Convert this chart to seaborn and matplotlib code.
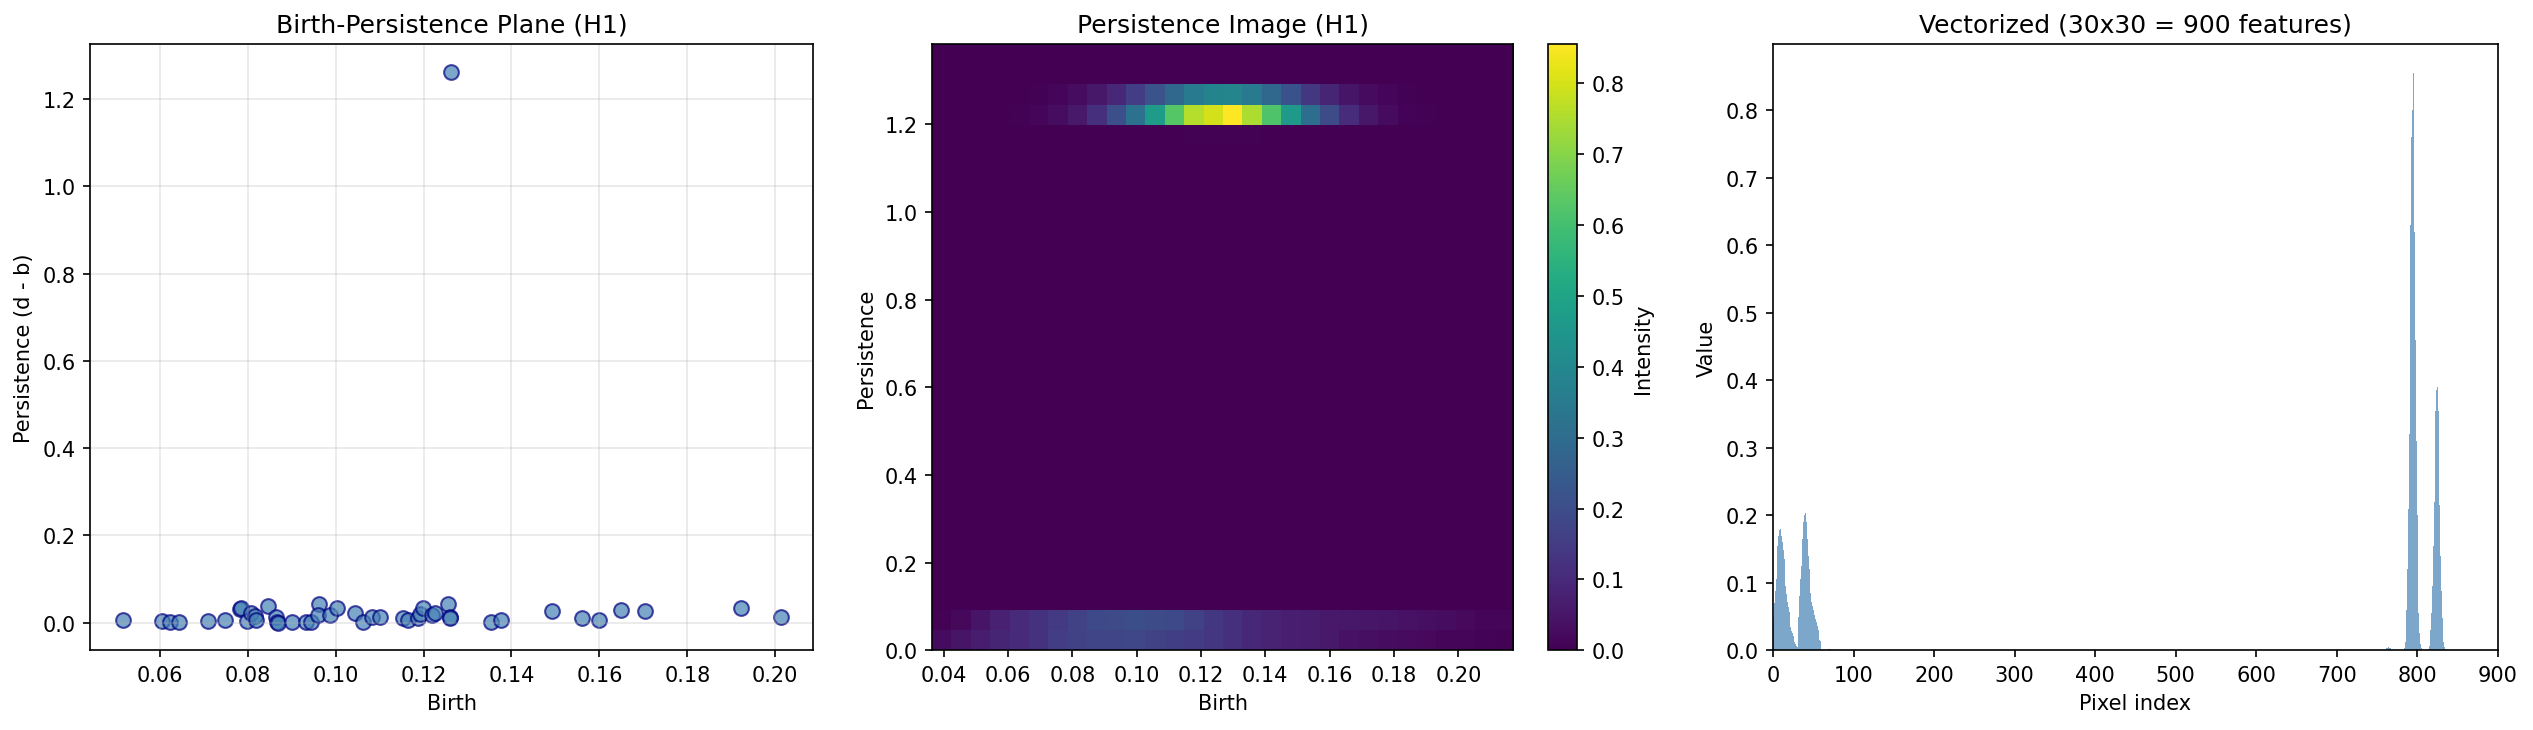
import numpy as np
import pandas as pd
import matplotlib
matplotlib.use('Agg')
import matplotlib.pyplot as plt
import seaborn as sns

plt.rcParams['font.family'] = ['DejaVu Sans']

# --- H1 diagram points (birth, persistence) ---
births = [0.0517, 0.0606, 0.0623, 0.0644, 0.0710, 0.0749, 0.0783, 0.0785,
          0.0799, 0.0808, 0.0816, 0.0818, 0.0847, 0.0865, 0.0866, 0.0869,
          0.0900, 0.0933, 0.0943, 0.0961, 0.0959, 0.0987, 0.1003, 0.1043,
          0.1063, 0.1082, 0.1102, 0.1153, 0.1164, 0.1188, 0.1193, 0.1199,
          0.1220, 0.1227, 0.1256, 0.1259, 0.1261, 0.1262, 0.1354, 0.1377,
          0.1491, 0.1560, 0.1599, 0.1650, 0.1704, 0.1922, 0.2012]
persistence = [0.006, 0.004, 0.001, 0.001, 0.004, 0.007, 0.032, 0.034,
               0.004, 0.023, 0.015, 0.007, 0.038, 0.013, 0.002, 0.000,
               0.002, 0.002, 0.002, 0.042, 0.018, 0.017, 0.034, 0.022,
               0.002, 0.014, 0.013, 0.011, 0.007, 0.010, 0.019, 0.034,
               0.017, 0.023, 0.043, 0.013, 0.011, 1.262, 0.001, 0.006,
               0.026, 0.011, 0.006, 0.030, 0.026, 0.034, 0.013]

# --- persistence image (30x30), only the non-empty rows, row 0 = bottom ---
img_row0 = [0.025, 0.050, 0.070, 0.088, 0.105, 0.125, 0.155, 0.170, 0.178, 0.180,
            0.182, 0.170, 0.160, 0.148, 0.135, 0.120, 0.095, 0.083, 0.072, 0.064,
            0.057, 0.042, 0.035, 0.029, 0.025, 0.021, 0.016, 0.012, 0.009, 0.006]
img_row1 = [0.005, 0.020, 0.050, 0.080, 0.105, 0.125, 0.145, 0.165, 0.190, 0.200,
            0.204, 0.200, 0.190, 0.165, 0.140, 0.120, 0.100, 0.085, 0.072, 0.065,
            0.060, 0.056, 0.052, 0.047, 0.042, 0.036, 0.030, 0.022, 0.016, 0.014]
img_row2 = [0, 0, 0, 0, 0, 0, 0, 0, 0.001, 0.002,
            0.002, 0.002, 0.001, 0, 0, 0, 0, 0, 0, 0,
            0, 0, 0, 0, 0, 0, 0, 0, 0, 0]
img_row25 = [0, 0, 0, 0, 0, 0, 0, 0, 0, 0,
             0, 0.001, 0.003, 0.004, 0.005, 0.005, 0.004, 0.003, 0.001, 0,
             0, 0, 0, 0, 0, 0, 0, 0, 0, 0]
img_row26 = [0, 0, 0, 0, 0.004, 0.012, 0.030, 0.060, 0.120, 0.210,
             0.320, 0.470, 0.630, 0.760, 0.800, 0.855, 0.750, 0.620, 0.460, 0.310,
             0.200, 0.110, 0.055, 0.025, 0.010, 0.004, 0, 0, 0, 0]
img_row27 = [0, 0, 0, 0, 0.002, 0.006, 0.015, 0.030, 0.055, 0.095,
             0.155, 0.220, 0.290, 0.355, 0.385, 0.390, 0.355, 0.290, 0.215, 0.140,
             0.088, 0.048, 0.025, 0.012, 0.005, 0.002, 0, 0, 0, 0]
img_rows = {0: img_row0, 1: img_row1, 2: img_row2,
            25: img_row25, 26: img_row26, 27: img_row27}
img_extent = [0.0364, 0.217, 0.0, 1.382]
birth_ticks = [0.04, 0.06, 0.08, 0.10, 0.12, 0.14, 0.16, 0.18, 0.20]

pimg = np.zeros((30, 30))
for r, vals in img_rows.items():
    pimg[r] = vals
vec = pimg.flatten()

df_pts = pd.DataFrame({'birth': births, 'pers': persistence})
df_vec = pd.DataFrame({'idx': np.arange(vec.size), 'val': vec})

fig = plt.figure(figsize=(16.893, 4.873), dpi=150)
ax1 = fig.add_axes([0.0357, 0.109, 0.2853, 0.829])
ax2 = fig.add_axes([0.3678, 0.109, 0.2293, 0.829])
cax = fig.add_axes([0.6110, 0.109, 0.0114, 0.829])
ax3 = fig.add_axes([0.6997, 0.109, 0.2860, 0.829])

# panel 1: birth-persistence scatter
sns.scatterplot(data=df_pts, x='birth', y='pers', s=50, color='steelblue',
                edgecolor='navy', linewidth=1, alpha=0.7, ax=ax1)
ax1.set_title('Birth-Persistence Plane (H1)', fontsize=12)
ax1.set_xlabel('Birth')
ax1.set_ylabel('Persistence (d - b)')
ax1.grid(True, alpha=0.3)

# panel 2: persistence image
im = ax2.imshow(pimg, origin='lower', extent=img_extent, aspect='auto',
                cmap='viridis', vmin=0, vmax=vec.max())
ax2.set_xticks(birth_ticks)
ax2.set_xlim(img_extent[0], img_extent[1])
ax2.set_title('Persistence Image (H1)', fontsize=12)
ax2.set_xlabel('Birth')
ax2.set_ylabel('Persistence')
cb = fig.colorbar(im, cax=cax)
cb.set_label('Intensity')

# panel 3: flattened vector
sns.barplot(data=df_vec, x='idx', y='val', native_scale=True, width=1.0,
            color='steelblue', saturation=1, alpha=0.7, linewidth=0,
            errorbar=None, ax=ax3)
ax3.set_xlim(0, 900)
ax3.set_ylim(0, vec.max() * 1.05)
ax3.set_xticks(np.arange(0, 901, 100))
ax3.set_title('Vectorized (30x30 = 900 features)', fontsize=12)
ax3.set_xlabel('Pixel index')
ax3.set_ylabel('Value')

fig.savefig('out.png', dpi=150)
